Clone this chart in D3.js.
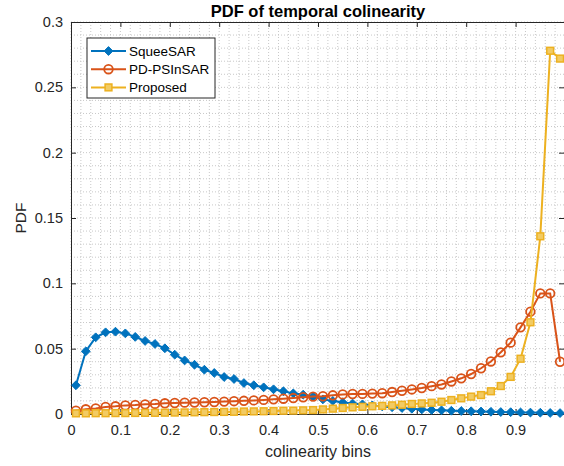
<!DOCTYPE html>
<html>
<head>
<meta charset="utf-8">
<script src="https://cdn.jsdelivr.net/npm/d3@7"></script>
<style>
  html, body { margin: 0; padding: 0; background: #fff; }
  svg { display: block; font-family: "Liberation Sans", Arial, Helvetica, sans-serif; }
</style>
</head>
<body>
<svg id="chart" width="564" height="466"></svg>
<script>
// Bin centres of the colinearity histogram
const bins = [0.01,0.03,0.05,0.07,0.09,0.11,0.13,0.15,0.17,0.19,
              0.21,0.23,0.25,0.27,0.29,0.31,0.33,0.35,0.37,0.39,
              0.41,0.43,0.45,0.47,0.49,0.51,0.53,0.55,0.57,0.59,
              0.61,0.63,0.65,0.67,0.69,0.71,0.73,0.75,0.77,0.79,
              0.81,0.83,0.85,0.87,0.89,0.91,0.93,0.95,0.97,0.99];

const squeeSAR = [0.022,0.048,0.0587,0.0625,0.063,0.0617,0.059,0.0559,0.0536,0.0503,
                  0.0454,0.041,0.0377,0.0339,0.0314,0.0283,0.0268,0.0237,0.022,0.0204,
                  0.0189,0.0174,0.0158,0.0148,0.0133,0.0112,0.010,0.0089,0.008,0.0074,
                  0.0066,0.0058,0.0052,0.0046,0.004,0.0035,0.0031,0.0028,0.0025,0.0023,
                  0.0021,0.0019,0.0017,0.0015,0.0014,0.0012,0.0011,0.001,0.0008,0.0007];

const pdPSInSAR = [0.0025,0.0036,0.0043,0.0054,0.0059,0.0066,0.0069,0.0074,0.0077,0.0082,
                   0.0084,0.0087,0.0088,0.009,0.0092,0.0095,0.0098,0.0101,0.0104,0.0108,
                   0.0112,0.0117,0.0122,0.0128,0.0133,0.0136,0.0143,0.015,0.0153,0.0154,
                   0.0156,0.0159,0.0168,0.0178,0.0188,0.0199,0.0213,0.0226,0.0249,0.0273,
                   0.0306,0.035,0.0402,0.0472,0.0546,0.0663,0.0783,0.0923,0.0923,0.040];

const proposed = [0.0005,0.0005,0.0006,0.0006,0.0007,0.0007,0.0008,0.0009,0.0009,0.001,
                  0.0011,0.0012,0.0013,0.0014,0.0015,0.0016,0.0017,0.0019,0.002,0.0021,
                  0.0023,0.0025,0.0026,0.0028,0.003,0.0035,0.0041,0.0046,0.0051,0.0055,
                  0.0059,0.0062,0.0066,0.0071,0.0077,0.0081,0.0086,0.0094,0.0107,0.012,
                  0.0133,0.0145,0.0174,0.0214,0.0284,0.0423,0.0702,0.136,0.278,0.272];

const seriesNames = ["SqueeSAR", "PD-PSInSAR", "Proposed"];
const xTicks = [0,0.1,0.2,0.3,0.4,0.5,0.6,0.7,0.8,0.9];
const yTicks = [0,0.05,0.1,0.15,0.2,0.25,0.3];

const series = [
  { name: seriesNames[0], values: squeeSAR,  color: "#0072BD", marker: "diamond" },
  { name: seriesNames[1], values: pdPSInSAR, color: "#D95319", marker: "circle" },
  { name: seriesNames[2], values: proposed,  color: "#EDB120", marker: "square" }
];

const svg = d3.select("#chart");
const m = { left: 71, top: 22, right: 565, bottom: 414 };
const x = d3.scaleLinear().domain([0, 1]).range([m.left, m.right]);
const y = d3.scaleLinear().domain([0, 0.3]).range([m.bottom, m.top]);

// Minor grid (dotted)
const grid = svg.append("g");
const xMinor = d3.range(0, 51).map(i => i * 0.02);
const yMinor = d3.range(0, 31).map(i => i * 0.01);
grid.selectAll(".vx").data(xMinor).join("line")
  .attr("x1", d => x(d)).attr("x2", d => x(d))
  .attr("y1", m.top).attr("y2", m.bottom)
  .attr("stroke", "#c8c8c8").attr("stroke-width", 1).attr("stroke-dasharray", "1,2");
grid.selectAll(".hy").data(yMinor).join("line")
  .attr("y1", d => y(d)).attr("y2", d => y(d))
  .attr("x1", m.left).attr("x2", m.right)
  .attr("stroke", "#c8c8c8").attr("stroke-width", 1).attr("stroke-dasharray", "1,2");

// Axes with inward ticks
const axisColor = "#262626";
const bottomAxis = svg.append("g").attr("transform", `translate(0,${m.bottom})`)
  .call(d3.axisBottom(x).tickValues(xTicks).tickSizeInner(-5).tickSizeOuter(0).tickPadding(11)
    .tickFormat(d => d3.format("")(+d.toFixed(1))));
const topAxis = svg.append("g").attr("transform", `translate(0,${m.top})`)
  .call(d3.axisTop(x).tickValues(xTicks).tickSizeInner(-5).tickSizeOuter(0).tickFormat(""));
const leftAxis = svg.append("g").attr("transform", `translate(${m.left},0)`)
  .call(d3.axisLeft(y).tickValues(yTicks).tickSizeInner(-5).tickSizeOuter(0).tickPadding(8)
    .tickFormat(d => d3.format("")(+d.toFixed(2))));
const rightAxis = svg.append("g").attr("transform", `translate(${m.right - 1},0)`)
  .call(d3.axisRight(y).tickValues(yTicks).tickSizeInner(-5).tickSizeOuter(0).tickFormat(""));

[bottomAxis, topAxis, leftAxis, rightAxis].forEach(g => {
  g.select(".domain").attr("stroke", axisColor).attr("stroke-width", 1);
  g.selectAll(".tick line").attr("stroke", axisColor);
  g.selectAll(".tick text").attr("fill", axisColor).style("font-size", "14.5px")
    .style("font-family", "'Liberation Sans', Arial, sans-serif");
});

// Series lines and markers
const line = d3.line().x((d, i) => x(bins[i])).y(d => y(d));

function drawMarker(g, s, cx, cy) {
  if (s.marker === "diamond") {
    const r = 4.4;
    g.append("path").attr("d", `M${cx},${cy - r}L${cx + r},${cy}L${cx},${cy + r}L${cx - r},${cy}Z`)
      .attr("fill", s.color).attr("stroke", s.color).attr("stroke-width", 1);
  } else if (s.marker === "circle") {
    g.append("circle").attr("cx", cx).attr("cy", cy).attr("r", 4.3)
      .attr("fill", "none").attr("stroke", s.color).attr("stroke-width", 1.8);
  } else {
    g.append("rect").attr("x", cx - 3.4).attr("y", cy - 3.4).attr("width", 6.8).attr("height", 6.8)
      .attr("fill", "#f2cb63").attr("stroke", s.color).attr("stroke-width", 1.5);
  }
}

const plot = svg.append("g");
series.forEach(s => {
  const g = plot.append("g");
  g.append("path").datum(s.values).attr("d", line)
    .attr("fill", "none").attr("stroke", s.color).attr("stroke-width", 2);
  s.values.forEach((v, i) => drawMarker(g, s, x(bins[i]), y(v)));
});

// Title and axis labels
svg.append("text").attr("x", (m.left + m.right) / 2).attr("y", 16.5)
  .attr("text-anchor", "middle").style("font-size", "16.5px").style("font-weight", "bold")
  .attr("fill", "#000").text("PDF of temporal colinearity");
svg.append("text").attr("x", (m.left + m.right) / 2).attr("y", 457)
  .attr("text-anchor", "middle").style("font-size", "16px").attr("fill", axisColor)
  .text("colinearity bins");
svg.append("text").attr("transform", `translate(26,${(m.top + m.bottom) / 2}) rotate(-90)`)
  .attr("text-anchor", "middle").style("font-size", "15.5px").attr("fill", axisColor)
  .text("PDF");

// Legend
const lg = svg.append("g").attr("transform", "translate(87,38)");
lg.append("rect").attr("x", 0).attr("y", 0).attr("width", 128).attr("height", 60)
  .attr("fill", "#fff").attr("stroke", axisColor).attr("stroke-width", 1);
series.forEach((s, i) => {
  const cy = 13 + i * 18.2;
  lg.append("line").attr("x1", 4).attr("x2", 39).attr("y1", cy).attr("y2", cy)
    .attr("stroke", s.color).attr("stroke-width", 2);
  drawMarker(lg, s, 21.5, cy);
  lg.append("text").attr("x", 42).attr("y", cy + 4.8).style("font-size", "13.5px")
    .attr("fill", "#000").text(s.name);
});
</script>
</body>
</html>
